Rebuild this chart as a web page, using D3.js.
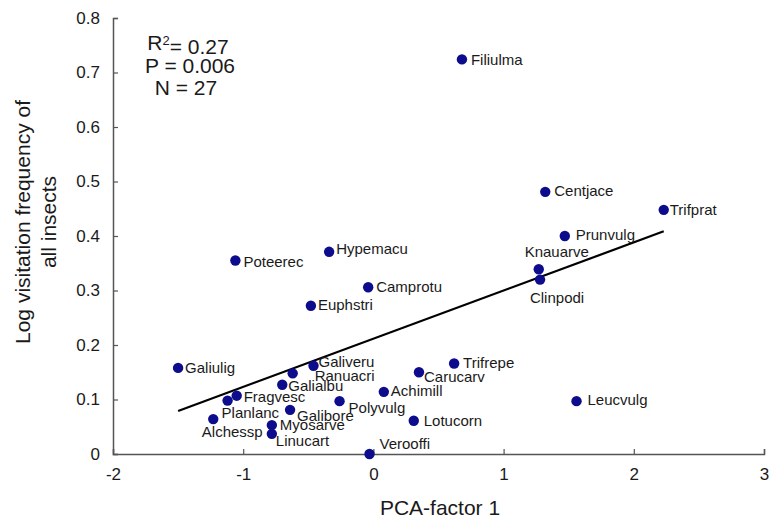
<!DOCTYPE html>
<html>
<head>
<meta charset="utf-8">
<script src="https://cdn.jsdelivr.net/npm/d3@7"></script>
<style>
  html, body { margin: 0; padding: 0; background: #fff; }
  svg { display: block; font-family: "Liberation Sans", Arial, Helvetica, sans-serif; }
</style>
</head>
<body>
<svg id="chart" width="778" height="520"></svg>
<script>
// ---- data ----
const species = ["Filiulma","Centjace","Trifprat","Prunvulg","Knauarve","Clinpodi","Hypemacu","Poteerec","Camprotu","Euphstri","Galiulig","Galiveru","Ranuacri","Galialbu","Fragvesc","Planlanc","Alchessp","Galibore","Myosarve","Linucart","Polyvulg","Achimill","Carucarv","Trifrepe","Leucvulg","Lotucorn","Verooffi"];
const pcaFactor1 = [0.68, 1.32, 2.23, 1.47, 1.27, 1.28, -0.34, -1.06, -0.04, -0.48, -1.50, -0.46, -0.62, -0.70, -1.05, -1.12, -1.23, -0.64, -0.78, -0.78, -0.26, 0.08, 0.35, 0.62, 1.56, 0.31, -0.03];
const logVisitation = [0.724, 0.481, 0.448, 0.400, 0.339, 0.320, 0.371, 0.355, 0.306, 0.272, 0.158, 0.162, 0.148, 0.127, 0.107, 0.098, 0.064, 0.081, 0.053, 0.037, 0.097, 0.114, 0.150, 0.166, 0.097, 0.061, 0.000];
const regSlope = 0.0884;
const regIntercept = 0.2115;
const xTicks = [-2, -1, 0, 1, 2, 3];
const yTicks = [0, 0.1, 0.2, 0.3, 0.4, 0.5, 0.6, 0.7, 0.8];
const statsLines = ["P = 0.006", "N = 27"];

// label placement (layout, pixels): [dx, dy, anchor]
const labelOffsets = [
  [9,0,"start"],[9,-1,"start"],[6,0,"start"],[11,-1,"start"],[18,-17,"middle"],[17,18,"middle"],
  [7,-3,"start"],[8,1,"start"],[8,0,"start"],[7,-1,"start"],[7,0,"start"],[5,-4,"start"],
  [22,2,"start"],[6,1,"start"],[7,1,"start"],[-6,12,"start"],[19,13,"middle"],[7,6,"start"],
  [8,0,"start"],[4,7,"start"],[9,7,"start"],[7,-1,"start"],[5,4,"start"],[9,-1,"start"],
  [11,-1,"start"],[10,0,"start"],[10,-10,"start"]
];

const points = species.map((s, i) => ({ name: s, x: pcaFactor1[i], y: logVisitation[i], off: labelOffsets[i] }));

// ---- layout ----
const svg = d3.select("#chart");
const x = d3.scaleLinear().domain([-2, 3]).range([113, 764]);
const y = d3.scaleLinear().domain([0, 0.8]).range([454, 18]);
const axisColor = "#555";
const textColor = "#1a1a1a";

// axes
const xAxis = svg.append("g").attr("transform", `translate(0,${y(0)})`)
  .call(d3.axisBottom(x).tickValues(xTicks).tickSize(-5).tickPadding(14).tickFormat(d => String(d)));
const yAxis = svg.append("g").attr("transform", `translate(${x(-2)},0)`)
  .call(d3.axisLeft(y).tickValues(yTicks).tickSize(-5).tickPadding(13).tickFormat(d => d === 0 ? "0" : d3.format(".1f")(d)));
[xAxis, yAxis].forEach(g => {
  g.select(".domain").attr("stroke", axisColor).attr("stroke-width", 1.5);
  g.selectAll(".tick line").attr("stroke", axisColor).attr("stroke-width", 1.2);
  g.selectAll(".tick text").attr("fill", textColor).style("font-size", "17px")
    .style("font-family", '"Liberation Sans", Arial, sans-serif');
});
xAxis.selectAll(".tick text").attr("dy", "0.71em");

// regression line
const xr = d3.extent(pcaFactor1);
svg.append("line")
  .attr("x1", x(xr[0])).attr("y1", y(regIntercept + regSlope * xr[0]))
  .attr("x2", x(xr[1])).attr("y2", y(regIntercept + regSlope * xr[1]))
  .attr("stroke", "#000").attr("stroke-width", 2.2);

// points
svg.append("g").selectAll("circle").data(points).join("circle")
  .attr("cx", d => x(d.x)).attr("cy", d => y(d.y)).attr("r", 5.2)
  .attr("fill", "#0c0c8c");

// labels
svg.append("g").selectAll("text").data(points).join("text")
  .attr("x", d => x(d.x) + d.off[0]).attr("y", d => y(d.y) + d.off[1])
  .attr("dy", "0.35em").attr("text-anchor", d => d.off[2])
  .attr("fill", textColor).style("font-size", "15px")
  .text(d => d.name);

// stats
const stats = svg.append("g").attr("fill", textColor).style("font-size", "21px").attr("text-anchor", "middle");
const r2 = stats.append("text").attr("x", 188).attr("y", 43).attr("dy", "0.35em");
r2.append("tspan").text("R");
r2.append("tspan").attr("dy", "-0.45em").style("font-size", "13px").text("2");
r2.append("tspan").attr("dy", "0.45em").text("= 0.27");
stats.selectAll("text.s").data(statsLines).join("text").attr("class", "s")
  .attr("x", (d, i) => i === 0 ? 190 : 186).attr("y", (d, i) => 66 + i * 22).attr("dy", "0.35em")
  .text(d => d);

// axis titles
svg.append("text").attr("x", 440).attr("y", 508).attr("dy", "0.35em").attr("text-anchor", "middle")
  .attr("fill", textColor).style("font-size", "21px").text("PCA-factor 1");
const yt = svg.append("text").attr("transform", "translate(23,222) rotate(-90)").attr("text-anchor", "middle")
  .attr("fill", textColor).style("font-size", "21px");
yt.append("tspan").attr("x", 0).attr("dy", "0.35em").text("Log visitation frequency of");
yt.append("tspan").attr("x", 0).attr("dy", "1.2em").text("all insects");
</script>
</body>
</html>
